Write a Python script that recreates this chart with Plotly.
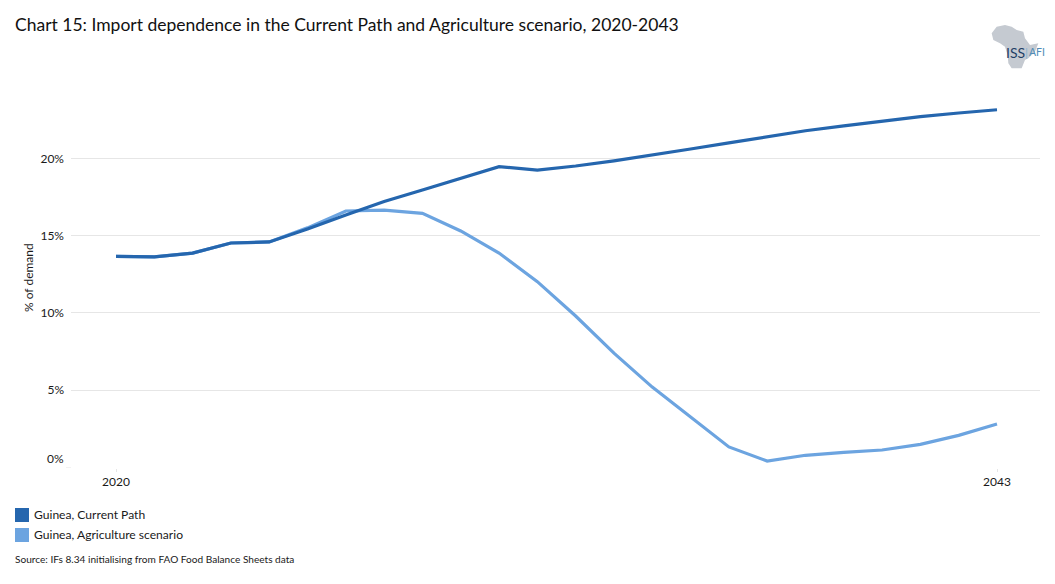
import plotly.graph_objects as go

years = list(range(2020, 2044))
current_path = [13.65, 13.62, 13.87, 14.52, 14.59, 15.43, 16.33, 17.2, 17.95, 18.72, 19.46, 19.24,
                19.5, 19.83, 20.2, 20.6, 21.0, 21.4, 21.78, 22.1, 22.4, 22.69, 22.93, 23.14]
agriculture = [13.65, 13.62, 13.87, 14.52, 14.59, 15.5, 16.59, 16.65, 16.44, 15.3, 13.87, 12.02,
               9.8, 7.4, 5.2, 3.29, 1.33, 0.42, 0.79, 0.98, 1.13, 1.5, 2.08, 2.81]
y_ticks = [5, 10, 15, 20]
x_ticks = [2020, 2043]
names = ["Guinea, Current Path", "Guinea, Agriculture scenario"]
colors = ["#2566AE", "#6CA4E0"]

W, H = 1055, 584
FONT = "Lato"
TXT = "#1a1a1a"

def px(x):
    return x / W

def py(y):
    return 1 - y / H

fig = go.Figure()
fig.add_trace(go.Scatter(x=years, y=agriculture, mode="lines", name=names[1],
                         line=dict(color=colors[1], width=3.2), showlegend=False))
fig.add_trace(go.Scatter(x=years, y=current_path, mode="lines", name=names[0],
                         line=dict(color=colors[0], width=3.2), showlegend=False))

shapes = [
    dict(type="line", xref="paper", yref="y", x0=px(66), x1=px(71), y0=0, y1=0,
         line=dict(color="#e6e6e6", width=1)),
]
for i, c in enumerate(colors):
    top = 508 + i * 20
    shapes.append(dict(type="rect", xref="paper", yref="paper", x0=px(15), x1=px(29),
                       y0=py(top), y1=py(top + 14), fillcolor=c, line=dict(width=0)))

outline = [(110, 50), (135, 45), (155, 50), (170, 60), (190, 65), (195, 85), (210, 105), (235, 100),
           (225, 125), (205, 145), (195, 150), (185, 175), (155, 175), (145, 160), (143, 135),
           (135, 110), (120, 100), (100, 90), (95, 70)]
path = "M " + " L ".join(f"{px(960 + a / 3):.5f},{py(10 + b / 3):.5f}" for a, b in outline) + " Z"
shapes.append(dict(type="path", xref="paper", yref="paper", path=path,
                   fillcolor="#C5CAD1", line=dict(width=0), layer="below"))

def note(text, x, y, size, color=TXT, xanchor="left", **kw):
    return dict(text=text, xref="paper", yref="paper", x=px(x), y=py(y), xanchor=xanchor,
                yanchor="middle", showarrow=False, font=dict(family=FONT, size=size, color=color), **kw)

annotations = [
    dict(text="0%", xref="paper", yref="y", x=px(66), y=0, yshift=9, xanchor="right", yanchor="middle",
         showarrow=False, font=dict(family=FONT, size=12, color=TXT)),
    note("% of demand", 28, 278, 12, xanchor="center", textangle=-90),
    note(names[0], 32, 514.5, 12.1),
    note(names[1], 32, 534.5, 12.1),
    note("Source: IFs 8.34 initialising from FAO Food Balance Sheets data", 13, 559, 10.1),
    note("ISS", 1004, 52, 14, color="#1F3F66"),
    note("|", 1023, 52, 12, color="#8DB4D2"),
    note("AFI", 1027, 52, 10.5, color="#4F8DB8"),
]

fig.update_layout(
    width=W, height=H, margin=dict(l=0, r=0, t=0, b=0, autoexpand=False),
    paper_bgcolor="white", plot_bgcolor="white", showlegend=False,
    title=dict(text="Chart 15: Import dependence in the Current Path and Agriculture scenario, 2020-2043",
               x=px(15), xref="paper", xanchor="left", y=py(25), yref="paper", yanchor="middle",
               font=dict(family=FONT, size=17.5, color="#111111")),
    xaxis=dict(domain=[px(71), px(1040)], range=[2020 - 45 / 38.3, 2043 + 43 / 38.3],
               tickmode="array", tickvals=x_ticks, ticktext=[str(v) for v in x_ticks],
               showgrid=False, zeroline=False, showline=False, ticks="outside", ticklen=3,
               tickcolor="#e6e6e6", tickwidth=1, tickfont=dict(family=FONT, size=12, color=TXT)),
    yaxis=dict(domain=[py(467.5), py(95)], range=[0, (467.5 - 95) / 15.46],
               tickmode="array", tickvals=y_ticks, ticktext=[f"{v}%" for v in y_ticks],
               showgrid=True, gridcolor="#e6e6e6", gridwidth=1, zeroline=False, showline=False,
               ticks="", ticklabelstandoff=6, tickfont=dict(family=FONT, size=12, color=TXT)),
    shapes=shapes, annotations=annotations,
)
fig.write_html("out.html", config=dict(displayModeBar=False),
               post_script="document.body.style.margin='0';document.body.style.overflow='hidden';")
